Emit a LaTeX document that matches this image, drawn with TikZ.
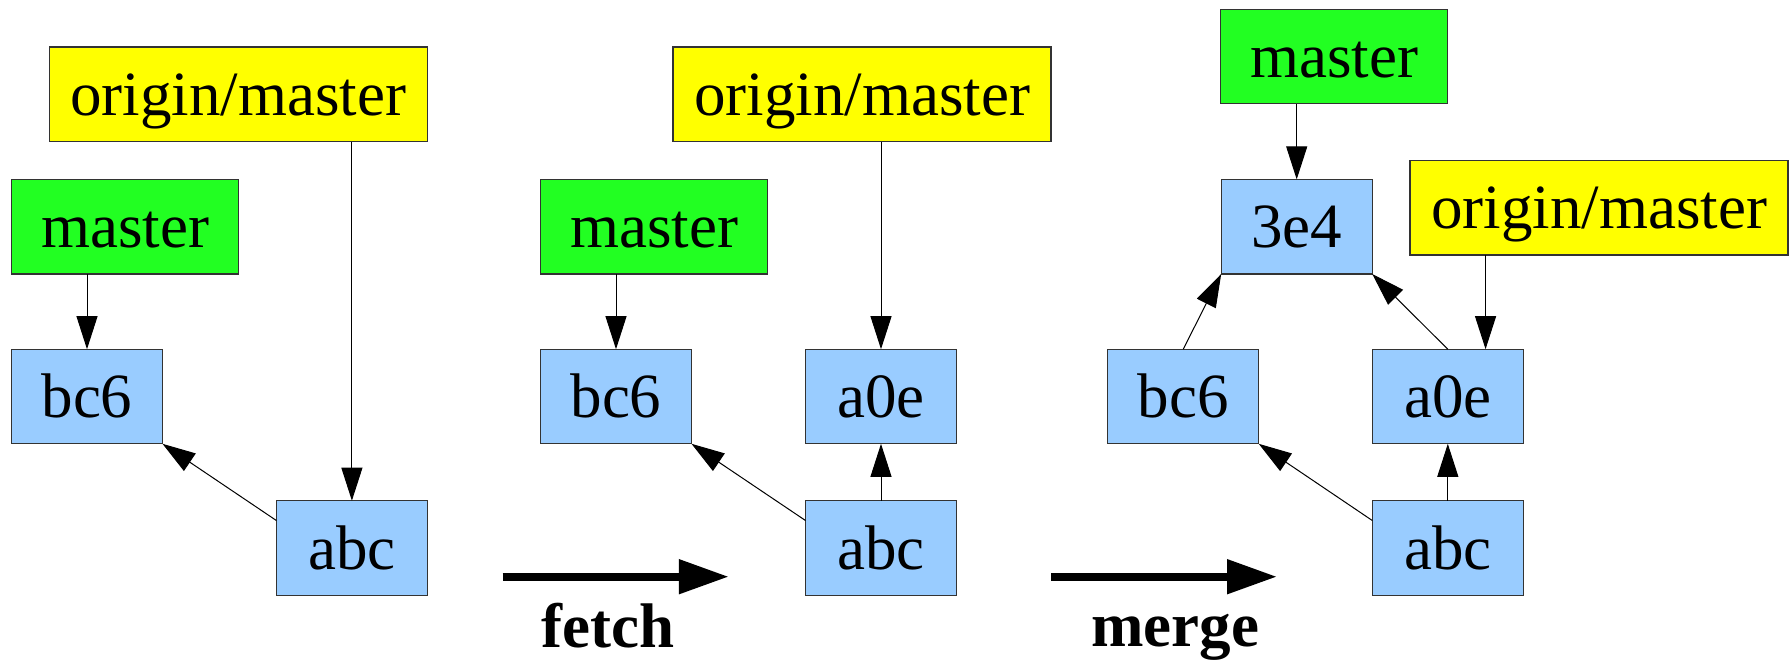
\documentclass[tikz,border=0pt]{standalone}
\usepackage{fontspec}
\setmainfont{Liberation Serif}
\usetikzlibrary{arrows.meta,calc}
\definecolor{refyellow}{HTML}{FFFF00}
\definecolor{brgreen}{HTML}{22FF22}
\definecolor{commitblue}{HTML}{99CCFF}
\tikzset{
  box/.style={draw=black!80, line width=1.3pt, inner sep=0pt, outer sep=0pt,
    minimum height=94.6pt, text height=42pt, text depth=0pt,
    font=\fontsize{63}{70}\selectfont},
  remote/.style={box, fill=refyellow, minimum width=378pt},
  local/.style={box, fill=brgreen, minimum width=227pt},
  commit/.style={box, fill=commitblue, minimum width=151pt},
  link/.style={draw=black, line width=1pt, -{Triangle[length=33pt,width=21pt]}},
  opstep/.style={line width=8pt, -{Triangle[length=50pt,width=33pt]}},
  oplabel/.style={anchor=base, inner sep=0pt, font=\fontsize{63}{70}\selectfont\bfseries}
}
\begin{document}
\begin{tikzpicture}[x=1pt, y=-1pt]
\useasboundingbox (0,0) rectangle (1791,659);

% --- before fetch ---
\node[remote] (o1) at (238.2,94.3) {origin/master};
\node[local]  (m1) at (125.2,226.7) {master};
\node[commit] (b1) at (87,396.5) {bc6};
\node[commit] (a1) at (351.9,548) {abc};
\draw[link] (m1.south -| b1.north) -- (b1.north);
\draw[link] (o1.south -| a1.north) -- (a1.north);
\draw[link] (a1.160) -- (b1.south east);

% --- after fetch ---
\node[remote] (o2) at (862,94.3) {origin/master};
\node[local]  (m2) at (654,226.7) {master};
\node[commit] (b2) at (616,396.5) {bc6};
\node[commit] (e2) at (881,396.5) {a0e};
\node[commit] (a2) at (881,548) {abc};
\draw[link] (m2.south -| b2.north) -- (b2.north);
\draw[link] (o2.south -| e2.north) -- (e2.north);
\draw[link] (a2.north) -- (e2.south);
\draw[link] (a2.160) -- (b2.south east);

% --- after merge ---
\node[local]  (m3) at (1334.3,56.5) {master};
\node[commit] (t3) at (1296.7,226.7) {3e4};
\node[remote] (o3) at (1599,207.8) {origin/master};
\node[commit] (b3) at (1183.2,396.5) {bc6};
\node[commit] (e3) at (1447.8,396.5) {a0e};
\node[commit] (a3) at (1447.8,548) {abc};
\coordinate (e3in) at ($(e3.north)!0.5!(e3.north east)$);
\draw[link] (m3.south -| t3.north) -- (t3.north);
\draw[link] (o3.south -| e3in) -- (e3in);
\draw[link] (b3.north) -- (t3.south west);
\draw[link] (e3.north) -- (t3.south east);
\draw[link] (a3.north) -- (e3.south);
\draw[link] (a3.160) -- (b3.south east);

% --- operations ---
\coordinate (f0) at (502.7,576.7);
\coordinate (f1) at (728.8,576.7);
\draw[opstep] (f0) -- (f1);
\node[oplabel] (fetch) at (607.7,647.3) {fetch};
\coordinate (g0) at (1051,576.7);
\coordinate (g1) at (1277,576.7);
\draw[opstep] (g0) -- (g1);
\node[oplabel] (merge) at (1175,646.7) {merge};
\end{tikzpicture}
\end{document}
